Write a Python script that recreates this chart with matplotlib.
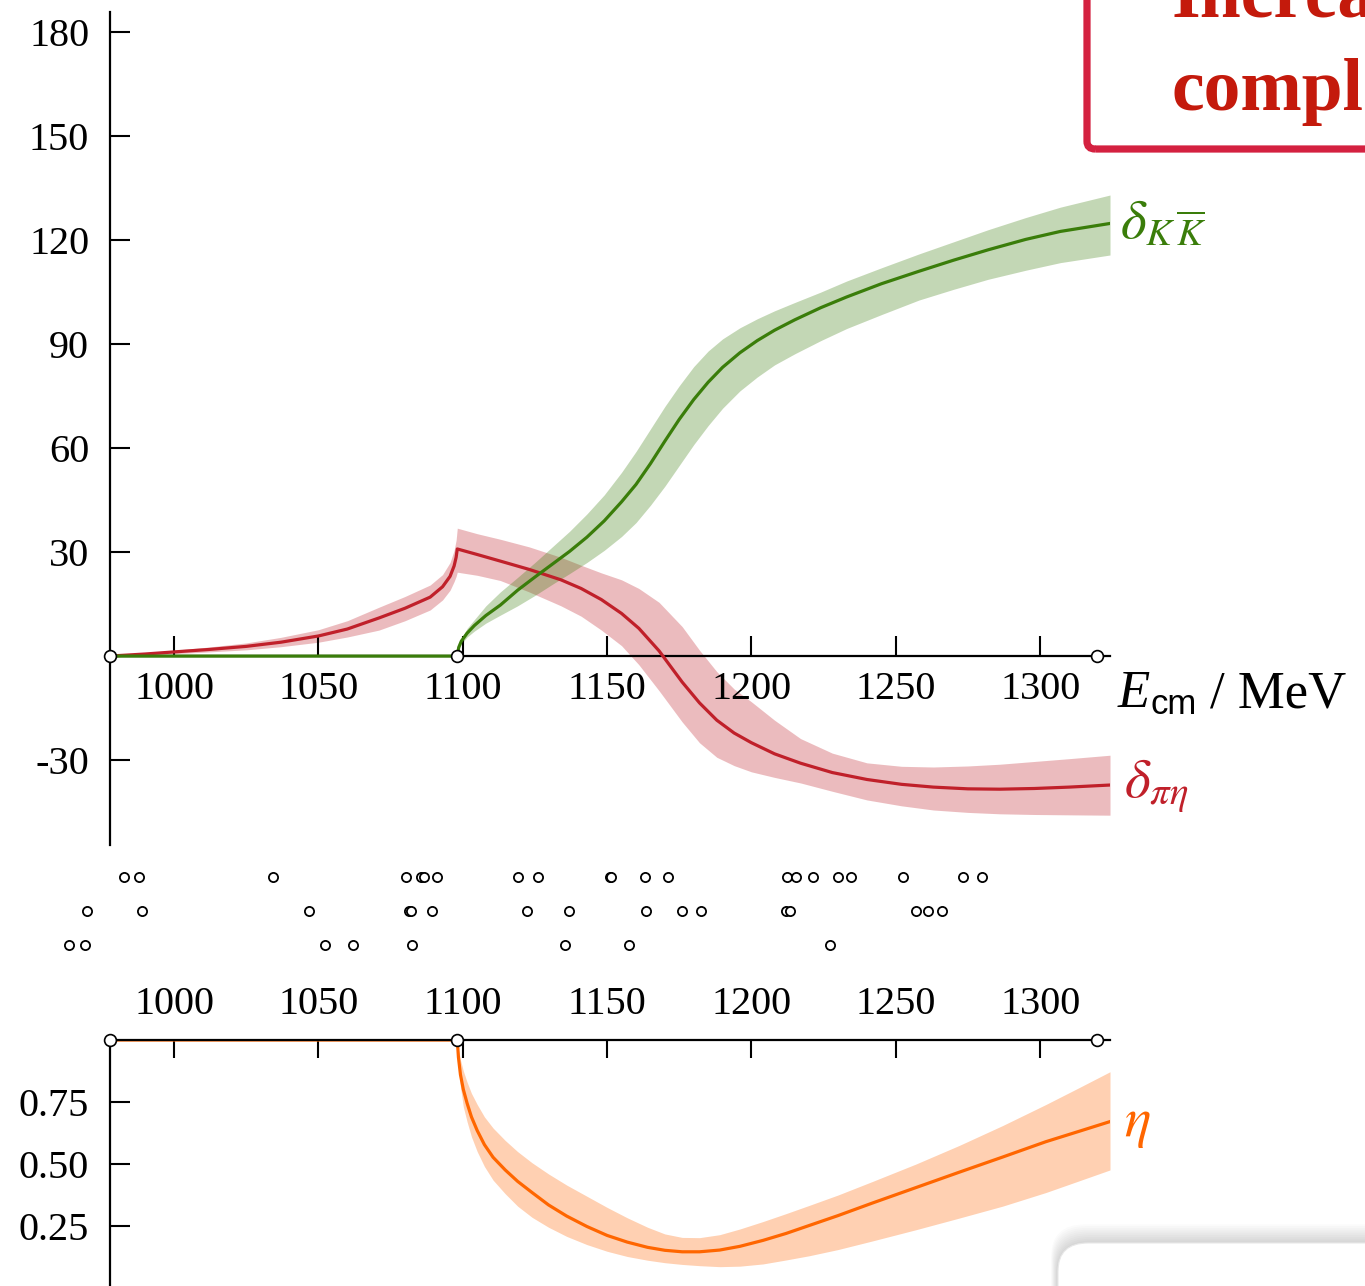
import matplotlib.pyplot as plt
from matplotlib.patches import FancyBboxPatch

plt.rcParams['font.family'] = ['Liberation Serif', 'DejaVu Serif']
plt.rcParams['mathtext.fontset'] = 'stix'
plt.rcParams['axes.unicode_minus'] = False

# thresholds (MeV)
E_pieta = 977.8
E_kkbar = 1098.1
E_end = 1319.7
E_max = 1324.2

# pi eta phase shift (deg)
E_pe = [977.8, 990, 1000, 1012, 1025, 1037, 1050, 1060, 1071, 1080, 1088.7, 1093, 1095.6,
        1097, 1097.7, 1098.1, 1105, 1113, 1123, 1134, 1141, 1148, 1155, 1161, 1168, 1176,
        1182, 1188, 1194, 1200, 1208, 1217, 1228, 1240, 1252, 1263, 1275, 1286, 1298, 1310,
        1324.2]
d_pe = [0, 0.6, 1.2, 1.9, 2.8, 4.0, 5.8, 7.8, 11, 13.8, 17, 20, 23,
        26, 28.5, 30.9, 29.3, 27.4, 25, 22, 19.5, 16.3, 12.3, 8, 1.5, -7.5,
        -13.5, -18.5, -22.2, -25, -28.2, -30.9, -33.6, -35.6, -37, -37.8, -38.3, -38.4, -38.2, -37.8,
        -37.2]
d_pe_hi = [0, 0.9, 1.7, 2.6, 3.8, 5.4, 7.6, 10.2, 14.1, 17.2, 20.5, 23.5, 27,
           30.5, 33.5, 36.9, 35.3, 33.7, 31.5, 28.5, 26.2, 24, 22, 19.5, 15.5, 8.5,
           1.7, -4.5, -9.5, -13.2, -18.5, -23.8, -28, -30.8, -31.8, -32, -31.7, -31.2, -30.4, -29.6,
           -28.6]
d_pe_lo = [0, 0.3, 0.7, 1.2, 1.8, 2.7, 4, 5.5, 7.5, 10.2, 13.3, 16.2, 19,
           21.5, 23, 24.2, 23.3, 21.8, 18.5, 14.5, 11.5, 7.5, 3, -2.5, -10, -19,
           -25, -29.2, -31.6, -33.4, -35, -36.6, -39, -41.5, -43.2, -44.4, -45.1, -45.5, -45.7, -45.8,
           -45.9]

# K Kbar phase shift (deg)
E_kk = [977.8, 1098.1, 1098.6, 1099.5, 1101.5, 1104, 1108, 1113, 1119, 1125, 1131, 1137, 1143,
        1149, 1155, 1160, 1165, 1170, 1175, 1180, 1185, 1190, 1196, 1202, 1208, 1215, 1224,
        1233, 1245, 1258, 1270, 1282, 1295, 1307, 1324.2]
d_kk = [0, 0, 2.5, 4.3, 6.6, 8.8, 11.7, 14.7, 19, 22.8, 26.5, 30.2, 34.3,
        39, 44.5, 49.5, 55.5, 62, 68.3, 74, 79, 83.3, 87.5, 91, 94, 97, 100.5,
        103.6, 107.4, 111, 114.2, 117.2, 120.2, 122.5, 124.8]
d_kk_hi = [0, 0, 3, 5, 8, 10.5, 14.5, 18.5, 22.7, 27, 31.5, 36, 41,
           46.5, 53, 59, 65.5, 72, 78, 83.5, 88, 91.5, 94.7, 97.3, 99.6, 102, 105,
           108.2, 112, 116, 119.5, 123, 126.5, 129.5, 133]
d_kk_lo = [0, 0, 2, 3.5, 5.5, 7.2, 9.5, 11.8, 14.5, 17.5, 20.7, 23.8, 27,
           30.5, 34.5, 38.5, 43.5, 49, 55, 61, 66.5, 71.5, 76.5, 80.5, 84, 87.2, 91,
           94.5, 98.5, 102.7, 105.8, 108.7, 111.3, 113.5, 115.7]

# inelasticity
E_eta = [977.8, 1098.1, 1098.5, 1099.2, 1100.2, 1101.5, 1103, 1105, 1107.5, 1110.5, 1114.7,
         1119, 1124, 1129.7, 1136, 1143, 1150, 1157, 1164, 1170, 1176, 1182, 1189, 1196,
         1204, 1212, 1220, 1230, 1242, 1257, 1272, 1287, 1302, 1313, 1324.2]
eta = [1, 1, 0.93, 0.86, 0.8, 0.745, 0.69, 0.635, 0.578, 0.527, 0.476,
       0.43, 0.385, 0.335, 0.29, 0.248, 0.212, 0.185, 0.164, 0.152, 0.146, 0.146, 0.153, 0.168,
       0.192, 0.22, 0.252, 0.292, 0.343, 0.405, 0.467, 0.528, 0.59, 0.63, 0.671]
eta_hi = [1, 1, 0.96, 0.92, 0.875, 0.83, 0.785, 0.74, 0.69, 0.645, 0.595,
          0.55, 0.505, 0.46, 0.415, 0.37, 0.325, 0.283, 0.245, 0.218, 0.204, 0.203, 0.215, 0.238,
          0.268, 0.3, 0.333, 0.375, 0.43, 0.5, 0.575, 0.655, 0.74, 0.805, 0.872]
eta_lo = [1, 1, 0.9, 0.81, 0.73, 0.67, 0.61, 0.55, 0.49, 0.435, 0.38,
          0.33, 0.285, 0.245, 0.208, 0.175, 0.148, 0.127, 0.112, 0.102, 0.095, 0.09, 0.086, 0.088,
          0.097, 0.113, 0.13, 0.155, 0.19, 0.235, 0.282, 0.33, 0.385, 0.43, 0.476]

# finite-volume energy levels, one row per irrep
levels_1 = [982.7, 987.9, 1034.3, 1080.4, 1085.6, 1086.6, 1091.1, 1119.2, 1126.1, 1151.0, 1151.4,
            1163.1, 1171.1, 1212.3, 1215.4, 1221.3, 1230.0, 1234.5, 1252.5, 1273.3, 1279.9]
levels_2 = [969.9, 988.9, 1046.8, 1081.4, 1082.1, 1089.4, 1122.3, 1136.8, 1163.5, 1176.0,
            1182.5, 1212.0, 1213.4, 1257.0, 1261.2, 1266.0]
levels_3 = [963.6, 969.2, 1052.3, 1062.0, 1082.4, 1135.4, 1157.6, 1227.2]

deg_ticks = [-30, 30, 60, 90, 120, 150, 180]
eta_ticks = [0.25, 0.50, 0.75]
eta_labels = ['0.25', '0.50', '0.75']
e_ticks = [1000, 1050, 1100, 1150, 1200, 1250, 1300]

RED, GREEN, ORANGE = '#c0202a', '#3a7d0a', '#ff6600'
W, H = 1365, 1286


def rect(l, t, r, b):
    return [l / W, 1 - b / H, (r - l) / W, (b - t) / H]


def style(ax):
    for s in ['top', 'right', 'bottom', 'left']:
        ax.spines[s].set_linewidth(1.6)
    ax.tick_params(direction='in', length=14.4, width=1.5, labelsize=29)
    ax.set_xlim(E_pieta, E_max)
    ax.set_xticks(e_ticks)
    ax.set_facecolor('none')


fig = plt.figure(figsize=(13.65, 12.86), dpi=100)

# phase shifts
ax = fig.add_axes(rect(110, 12, 1110, 845))
style(ax)
ax.set_ylim(-54.5, 185.8)
ax.spines['top'].set_visible(False)
ax.spines['right'].set_visible(False)
ax.spines['bottom'].set_position(('data', 0))
ax.set_yticks(deg_ticks)
ax.tick_params(axis='x', pad=11)
ax.tick_params(axis='y', pad=15)

ax.fill_between(E_pe, d_pe_lo, d_pe_hi, color=RED, alpha=0.3, lw=0)
ax.fill_between(E_kk, d_kk_lo, d_kk_hi, color=GREEN, alpha=0.3, lw=0)
ax.plot(E_pe, d_pe, color=RED, lw=2.3, zorder=3)
ax.plot(E_kk, d_kk, color=GREEN, lw=2.3, zorder=3)
ax.plot([E_pieta, E_kkbar, E_end], [0, 0, 0], 'o', ms=8.5, mfc='white', mec='black',
        mew=1.2, clip_on=False, zorder=5)

ax.text(1327.5, 124.6, r'$\delta_{K\,\overline{K}}$', color=GREEN, fontsize=40,
        ha='left', va='center', clip_on=False)
ax.text(1329, -37.5, r'$\delta_{\pi\eta}$', color=RED, fontsize=40,
        ha='left', va='center', clip_on=False)

# axis title E_cm / MeV
fig.text(1118 / W, 1 - 707 / H, 'E', fontsize=38, style='italic', va='baseline')
fig.text(1151 / W, 1 - 714 / H, 'cm', fontsize=25, family='Liberation Sans', va='baseline')
fig.text(1210 / W, 1 - 707 / H, '/ MeV', fontsize=38, va='baseline')

# energy levels
axl = fig.add_axes(rect(110, 860, 1110, 962))
axl.set_xlim(E_pieta, E_max)
axl.set_ylim(3.5, 0.5)
axl.axis('off')
for row, lev in enumerate([levels_1, levels_2, levels_3], start=1):
    axl.plot(lev, [row] * len(lev), 'o', ms=6.6, mfc='white', mec='black', mew=1.3,
             clip_on=False)

# inelasticity
axe = fig.add_axes(rect(110, 1040, 1110, 1288))
style(axe)
axe.set_ylim(0, 1)
axe.spines['bottom'].set_visible(False)
axe.spines['right'].set_visible(False)
axe.xaxis.tick_top()
axe.set_yticks(eta_ticks)
axe.set_yticklabels(eta_labels)
axe.tick_params(axis='x', pad=12, length=13)
axe.tick_params(axis='y', pad=15)

axe.fill_between(E_eta, eta_lo, eta_hi, color=ORANGE, alpha=0.3, lw=0)
axe.plot(E_eta, eta, color=ORANGE, lw=2.3, zorder=2.2)
axe.plot([E_pieta, E_kkbar, E_end], [1, 1, 1], 'o', ms=8.5, mfc='white', mec='black',
         mew=1.2, clip_on=False, zorder=5)
axe.text(1329, 0.66, r'$\eta$', color=ORANGE, fontsize=40, ha='left', va='center',
         clip_on=False)

# callout box, top right
fig.patches.append(FancyBboxPatch((1087 / W, 1 - 149 / H), 400 / W, 300 / H,
                                  boxstyle='round,pad=0,rounding_size=0.006',
                                  transform=fig.transFigure, fc='none', ec='#d42140',
                                  lw=5.2, zorder=10))
fig.text(1172 / W, 1 - 17 / H, 'Increasing', color='#c41a0c', fontsize=53,
         fontweight='bold', ha='left', va='baseline')
fig.text(1172 / W, 1 - 110 / H, 'complexity', color='#c41a0c', fontsize=53,
         fontweight='bold', ha='left', va='baseline')

# panel corner with a soft shadow, bottom right
for k in range(10):
    g = 0.5 + k * 0.6
    fig.patches.append(FancyBboxPatch(((1057 - g) / W, 1 - (1242 - g + 1000) / H),
                                      (400 + 2 * g) / W, (1000 + 2 * g) / H,
                                      boxstyle='round,pad=0,rounding_size=0.025',
                                      transform=fig.transFigure, fc='black', ec='none',
                                      alpha=0.014, zorder=11))
fig.patches.append(FancyBboxPatch((1058 / W, 1 - 2243 / H), 400 / W, 1000 / H,
                                  boxstyle='round,pad=0,rounding_size=0.022',
                                  transform=fig.transFigure, fc='white', ec='#e8e8e8',
                                  lw=0.8, zorder=12))

fig.savefig('out.png', dpi=100)
